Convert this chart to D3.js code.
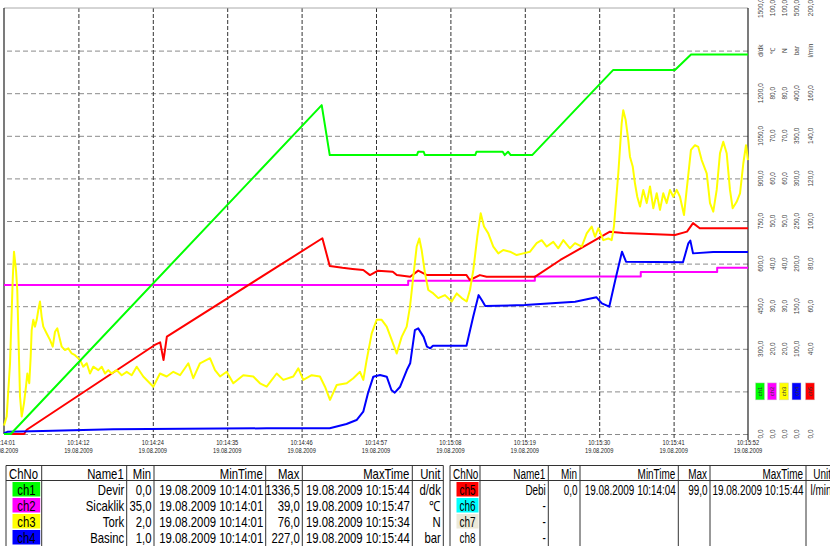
<!DOCTYPE html>
<html>
<head>
<meta charset="utf-8">
<script src="https://cdn.jsdelivr.net/npm/d3@7"></script>
<style>
body { margin: 0; background: #fff; overflow: hidden; }
text { font-family: "Liberation Sans", Arial, sans-serif; }
</style>
</head>
<body>
<script>
// size of the picture
const width = 830;
const height = 546;

// time axis (seconds after 10:14:01)
const tickTimes = [0, 11.1, 22.2, 33.3, 44.4, 55.5, 66.6, 77.7, 88.8, 99.9, 111];
const tickClock = ["10:14:01", "10:14:12", "10:14:24", "10:14:35", "10:14:46", "10:14:57",
  "10:15:08", "10:15:19", "10:15:30", "10:15:41", "10:15:52"];
const tickDay = "19.08.2009";

// right hand scales, one column per channel
const scaleMax = [1500, 100, 100, 500, 200];
const scaleUnits = ["d/dk", "℃", "N", "bar", "l/min"];
const devirTicks = [0, 300, 450, 600, 750, 900, 1050, 1200, 1500];
const sicaklikTicks = [0, 20, 30, 40, 50, 60, 70, 80, 100];
const torkTicks = [0, 20, 30, 40, 50, 60, 70, 80, 100];
const basincTicks = [0, 100, 150, 200, 250, 300, 350, 400, 500];
const debiTicks = [0, 40, 60, 80, 100, 120, 140, 160, 200];

// series [seconds, value]
const devir = [[0, 0], [1, 0], [47.4, 1158], [48.6, 982], [61.6, 982], [61.8, 994], [62.6, 994],
  [62.8, 982], [70.3, 982], [70.5, 994], [74.4, 994], [74.7, 982], [75.2, 994], [75.6, 982],
  [78.8, 982], [90.9, 1282], [100.1, 1282], [102.5, 1336.5], [111, 1336.5]];

const sicaklik = [[0, 35], [60.3, 36], [79.2, 37], [95, 38], [106.4, 39], [111, 39]];

const tork = [[0, 2], [0.4, 4.1], [0.9, 16.6], [1.3, 36.2], [1.49, 42.8], [1.79, 38.5], [1.98, 33.8],
  [2.13, 24.4], [2.39, 8.8], [2.64, 4.1], [2.98, 7.2], [3.28, 11.1], [3.48, 14.2], [3.77, 11.9],
  [3.98, 18.1], [4.13, 24.4], [4.37, 26.8], [4.62, 25.2], [4.88, 26.8], [5.12, 29.1], [5.37, 31.1],
  [5.62, 27.5], [5.86, 25.2], [6.37, 23.6], [6.86, 22.1], [7.27, 20.5], [7.61, 24.0], [7.95, 24.8],
  [8.25, 22.8], [8.61, 20.5], [9.1, 19.7], [9.59, 20.1], [10.1, 18.9], [10.59, 18.5], [11.34, 17.4],
  [11.83, 15.8], [12.34, 16.6], [12.83, 14.2], [13.32, 15.8], [14.07, 15.0], [14.58, 15.8],
  [15.07, 14.2], [15.56, 15.0], [16.07, 14.2], [16.81, 15.0], [17.56, 13.8], [18.31, 14.6],
  [19.05, 13.8], [19.8, 15.8], [20.78, 13.5], [22.27, 11.1], [23.27, 14.2], [24.27, 13.5],
  [25.26, 14.6], [26.26, 13.8], [27.5, 16.6], [28.24, 13.1], [29.24, 16.6], [30.73, 17.8],
  [31.48, 15.0], [32.23, 13.5], [33.22, 14.6], [34.21, 11.9], [35.7, 13.8], [37.19, 13.5],
  [38.19, 11.9], [39.19, 11.1], [40.68, 14.2], [41.67, 12.7], [43.16, 13.5], [43.91, 15.4],
  [44.65, 12.7], [45.91, 13.8], [47.14, 13.5], [47.89, 11.1], [48.64, 8.0], [49.64, 11.5],
  [51.13, 11.9], [52.11, 13.1], [53.11, 14.6], [53.61, 12.7], [54.11, 17.4], [54.86, 23.6],
  [55.6, 26.8], [56.35, 26.8], [57.1, 25.2], [57.84, 22.1], [58.59, 18.9], [59.33, 22.8],
  [60.08, 25.2], [60.57, 29.9], [61.06, 36.9], [61.57, 44.0], [61.96, 45.9], [62.31, 43.2],
  [62.81, 37.7], [63.3, 33.8], [64.05, 33.0], [64.79, 31.9], [65.79, 32.6], [66.79, 31.1],
  [67.54, 33.0], [68.29, 31.9], [69.03, 31.1], [69.52, 33.8], [70.02, 38.5], [70.61, 46.3],
  [71.12, 51.8], [71.61, 48.7], [72.25, 47.1], [73.0, 44.0], [73.75, 42.4], [74.49, 43.2],
  [75.49, 42.8], [76.49, 42.0], [77.48, 42.4], [78.48, 42.8], [79.47, 44.8], [80.22, 45.5],
  [80.97, 44.0], [81.95, 45.1], [82.7, 43.6], [83.44, 45.5], [84.44, 43.6], [85.19, 44.8],
  [86.19, 44.0], [86.94, 47.1], [87.68, 48.7], [88.17, 46.3], [88.67, 48.3], [89.41, 45.5],
  [90.16, 45.9], [90.66, 45.5], [91.0, 48.7], [91.65, 61.2], [92.15, 72.9], [92.39, 76.0],
  [92.75, 73.7], [93.14, 69.0], [93.39, 65.1], [93.8, 62.8], [94.14, 58.8], [94.48, 55.7],
  [94.89, 53.4], [95.38, 57.3], [95.89, 54.2], [96.38, 58.1], [96.87, 53.0], [97.38, 56.5],
  [97.87, 52.6], [98.36, 56.5], [98.87, 54.2], [99.36, 57.3], [99.85, 55.7], [100.36, 57.3],
  [100.85, 55.7], [101.45, 51.4], [101.85, 57.3], [102.49, 66.7], [103.09, 67.8], [103.58, 67.4],
  [104.09, 64.3], [104.84, 61.2], [105.33, 54.2], [105.82, 52.2], [106.33, 57.3], [106.82, 65.9],
  [107.31, 68.6], [107.82, 65.9], [108.31, 57.3], [108.71, 53.0], [109.31, 54.5], [109.81, 56.5],
  [110.3, 63.5], [110.7, 67.8], [111, 64.3]];

const basinc = [[0, 1], [0.5, 2.5], [5.8, 3.5], [16.3, 5.5], [39.2, 6.7], [48.6, 6.7], [51.1, 11.7],
  [52.6, 16.4], [53.6, 26.2], [54.3, 47.8], [55.1, 67.3], [56.1, 69.2], [57.1, 67.3], [57.8, 51.6],
  [58.3, 48.5], [59.1, 55.5], [60.1, 75.1], [60.6, 83], [61.3, 122], [61.8, 124], [62.6, 114],
  [63.1, 102.5], [63.6, 100.6], [64, 103.6], [69.0, 103.6], [70.0, 137.7], [70.8, 163], [71.3, 157],
  [71.8, 150.2], [77.7, 151.4], [85.2, 155.3], [88.4, 160.4], [89.2, 153.4], [90.3, 149.4],
  [91.2, 180.8], [92.2, 214], [92.8, 202.2], [101.3, 201.5], [102.1, 223.8], [102.4, 227],
  [102.8, 212], [105.8, 213.6], [111, 213.6]];

const debi = [[0, 0], [3, 0], [3.4, 2], [22.5, 41.8], [23.3, 43], [23.8, 34.7], [24.3, 45.7],
  [47.5, 91.9], [48.6, 78.9], [50.5, 78], [52, 77.5], [53.6, 77], [54.6, 74.6], [55.8, 76.7],
  [58.0, 76.2], [58.6, 74.6], [60.6, 73.8], [61.8, 76.7], [63.1, 74.6], [69.0, 74.6], [69.5, 72.3],
  [71.0, 74.6], [72.0, 73.8], [79.2, 73.8], [83.0, 81.7], [90.4, 95], [92.4, 94.4], [100.1, 93.4],
  [101.9, 95], [102.8, 99], [103.8, 96.6], [111, 96.6]];

// table below the chart
const chNames = ["ch1", "ch2", "ch3", "ch4", "ch5", "ch6", "ch7", "ch8"];
const chColors = ["#00ff00", "#ff00ff", "#ffff00", "#0000ff", "#ff0000", "#00ffff", "#ece9d8", "#ffffff"];
const name1 = ["Devir", "Sicaklik", "Tork", "Basinc", "Debi", "-", "-", "-"];
const minVals = ["0,0", "35,0", "2,0", "1,0", "0,0", "", "", ""];
const minTimes = ["19.08.2009 10:14:01", "19.08.2009 10:14:01", "19.08.2009 10:14:01",
  "19.08.2009 10:14:01", "19.08.2009 10:14:04", "", "", ""];
const maxVals = ["1336,5", "39,0", "76,0", "227,0", "99,0", "", "", ""];
const maxTimes = ["19.08.2009 10:15:44", "19.08.2009 10:15:47", "19.08.2009 10:15:34",
  "19.08.2009 10:15:44", "19.08.2009 10:15:44", "", "", ""];
const units = ["d/dk", "℃", "N", "bar", "l/min", "", "", ""];
const headers = ["ChNo", "Name1", "Min", "MinTime", "Max", "MaxTime", "Unit"];

// sets up canvas
let c = d3.select("body").append("svg")
  .attr("width", width)
  .attr("height", height);

c.append("rect").attr("width", width).attr("height", height).attr("fill", "white");

const plotL = 4, plotR = 748, plotT = 8, plotB = 434;

let x = d3.scaleLinear().domain([0, 111]).range([plotL, plotR]);
let yScales = scaleMax.map(m => d3.scaleLinear().domain([0, m]).range([plotB, plotT]));
let grid = d3.scaleLinear().domain([0, 10]).range([plotB, plotT]);

// horizontal grid
let hGrid = c.append("g")
  .attr("transform", "translate(" + plotR + ",0)")
  .call(d3.axisLeft(grid).tickValues(d3.range(0, 10)).tickSize(plotR - plotL).tickFormat(""));
hGrid.select(".domain").remove();
hGrid.selectAll("line").attr("stroke", "#8a8a8a").attr("stroke-dasharray", "5,3");

// vertical grid
let vGrid = c.append("g")
  .attr("transform", "translate(0," + (plotB + 4) + ")")
  .call(d3.axisBottom(x).tickValues(tickTimes.slice(1, -1)).tickSize(-(plotB + 4 - plotT)).tickFormat(""));
vGrid.select(".domain").remove();
vGrid.selectAll("line").attr("stroke", "#333").attr("stroke-dasharray", "4,2");

// frame
c.append("line").attr("x1", plotL).attr("x2", plotR).attr("y1", plotT).attr("y2", plotT)
  .attr("stroke", "#aaa");
c.append("line").attr("x1", plotL).attr("x2", plotL).attr("y1", plotT).attr("y2", plotB)
  .attr("stroke", "#222").attr("stroke-width", 1.2);
c.append("line").attr("x1", plotR).attr("x2", plotR).attr("y1", plotT).attr("y2", plotB + 6)
  .attr("stroke", "#222").attr("stroke-width", 1.2);

// time labels
tickTimes.forEach(function(t, i) {
  let g = c.append("g").attr("transform", "translate(" + x(t) + ",0)");
  g.append("text").attr("transform", "translate(0,444.5) scale(0.78,1)")
    .attr("text-anchor", "middle").style("font-size", "7.3px").attr("fill", "#222")
    .text(tickClock[i]);
  g.append("text").attr("transform", "translate(0,453) scale(0.78,1)")
    .attr("text-anchor", "middle").style("font-size", "7.3px").attr("fill", "#222")
    .text(tickDay);
});

// right hand scale columns
const colX = [760, 772, 784, 796.5, 810];
const colTicks = [devirTicks, sicaklikTicks, torkTicks, basincTicks, debiTicks];
const fmt = v => d3.format(".1f")(v).replace(".", ",");
colTicks.forEach(function(ticks, k) {
  ticks.forEach(function(v) {
    c.append("text")
      .attr("transform", "translate(" + colX[k] + "," + yScales[k](v) + ") rotate(-90)")
      .attr("text-anchor", "middle").attr("dominant-baseline", "central")
      .style("font-size", "6.5px").attr("fill", "#444")
      .text(fmt(v));
  });
  // unit sits on the 9th grid line
  c.append("text")
    .attr("transform", "translate(" + colX[k] + "," + grid(9) + ") rotate(-90)")
    .attr("text-anchor", "middle").attr("dominant-baseline", "central")
    .style("font-size", "6.5px").attr("fill", "#444")
    .text(scaleUnits[k]);
  // channel chip on the 1st grid line
  c.append("rect")
    .attr("x", colX[k] - 4.5).attr("y", grid(1) - 8.5)
    .attr("width", 9).attr("height", 17)
    .attr("fill", chColors[k]).attr("stroke", "#ccc").attr("stroke-width", 0.5);
  c.append("text")
    .attr("transform", "translate(" + colX[k] + "," + grid(1) + ") rotate(-90)")
    .attr("text-anchor", "middle").attr("dominant-baseline", "central")
    .style("font-size", "6px").attr("fill", "#333")
    .text(chNames[k]);
});

// the lines
function drawLine(data, yS, colour, curve) {
  let line = d3.line().x(d => x(d[0])).y(d => yS(d[1])).curve(curve || d3.curveLinear);
  c.append("path").datum(data)
    .attr("d", line)
    .attr("fill", "none")
    .attr("stroke", colour)
    .attr("stroke-width", 2)
    .attr("stroke-linejoin", "round");
}
drawLine(sicaklik, yScales[1], chColors[1], d3.curveStepAfter);
drawLine(debi, yScales[4], chColors[4]);
drawLine(basinc, yScales[3], chColors[3]);
drawLine(tork, yScales[2], chColors[2]);
drawLine(devir, yScales[0], chColors[0]);

// tables
const tables = [
  { edges: [6, 41.7, 126.7, 154, 265.7, 302.3, 412.3, 443.3], first: 0, sx: 0.81 },
  { edges: [450, 480, 548.3, 580, 678.3, 710, 806, 834], first: 4, sx: 0.71 }
];
const tTop = 465.5, tHead = 480.5, rowH = 16;

tables.forEach(function(tb) {
  let e = tb.edges;
  let g = c.append("g");
  g.append("line").attr("x1", e[0]).attr("x2", e[7]).attr("y1", tTop).attr("y2", tTop)
    .attr("stroke", "#333");
  g.append("line").attr("x1", e[0]).attr("x2", e[7]).attr("y1", tHead).attr("y2", tHead)
    .attr("stroke", "#333");
  e.forEach(function(ex) {
    g.append("line").attr("x1", ex).attr("x2", ex).attr("y1", tTop).attr("y2", height)
      .attr("stroke", "#333");
  });
  headers.forEach(function(h, j) {
    let tx = j === 0 ? e[0] + 3 : e[j + 1] - 3;
    g.append("text").attr("transform", "translate(" + tx + ",479) scale(" + tb.sx + ",1)")
      .attr("text-anchor", j === 0 ? "start" : "end")
      .style("font-size", "14px").text(h);
  });
  for (let r = 0; r < 4; r++) {
    let i = tb.first + r;
    let rt = tHead + r * rowH;
    let base = rt + 14.5;
    if (i !== 7) {
      g.append("rect").attr("x", e[0] + 6.5).attr("y", rt + 1.5)
        .attr("width", e[1] - e[0] - 8).attr("height", rowH - 1.5)
        .attr("fill", chColors[i]);
    }
    g.append("text").attr("transform", "translate(" + ((e[0] + 6.5 + e[1] - 1.5) / 2) + "," + base + ") scale(" + tb.sx + ",1)")
      .attr("text-anchor", "middle").style("font-size", "14px").text(chNames[i]);
    const cells = [name1[i], minVals[i], minTimes[i], maxVals[i], maxTimes[i], units[i]];
    cells.forEach(function(s, j) {
      g.append("text").attr("transform", "translate(" + (e[j + 2] - 2.5) + "," + base + ") scale(" + tb.sx + ",1)")
        .attr("text-anchor", "end").style("font-size", "14px").text(s);
    });
  }
});
</script>
</body>
</html>
